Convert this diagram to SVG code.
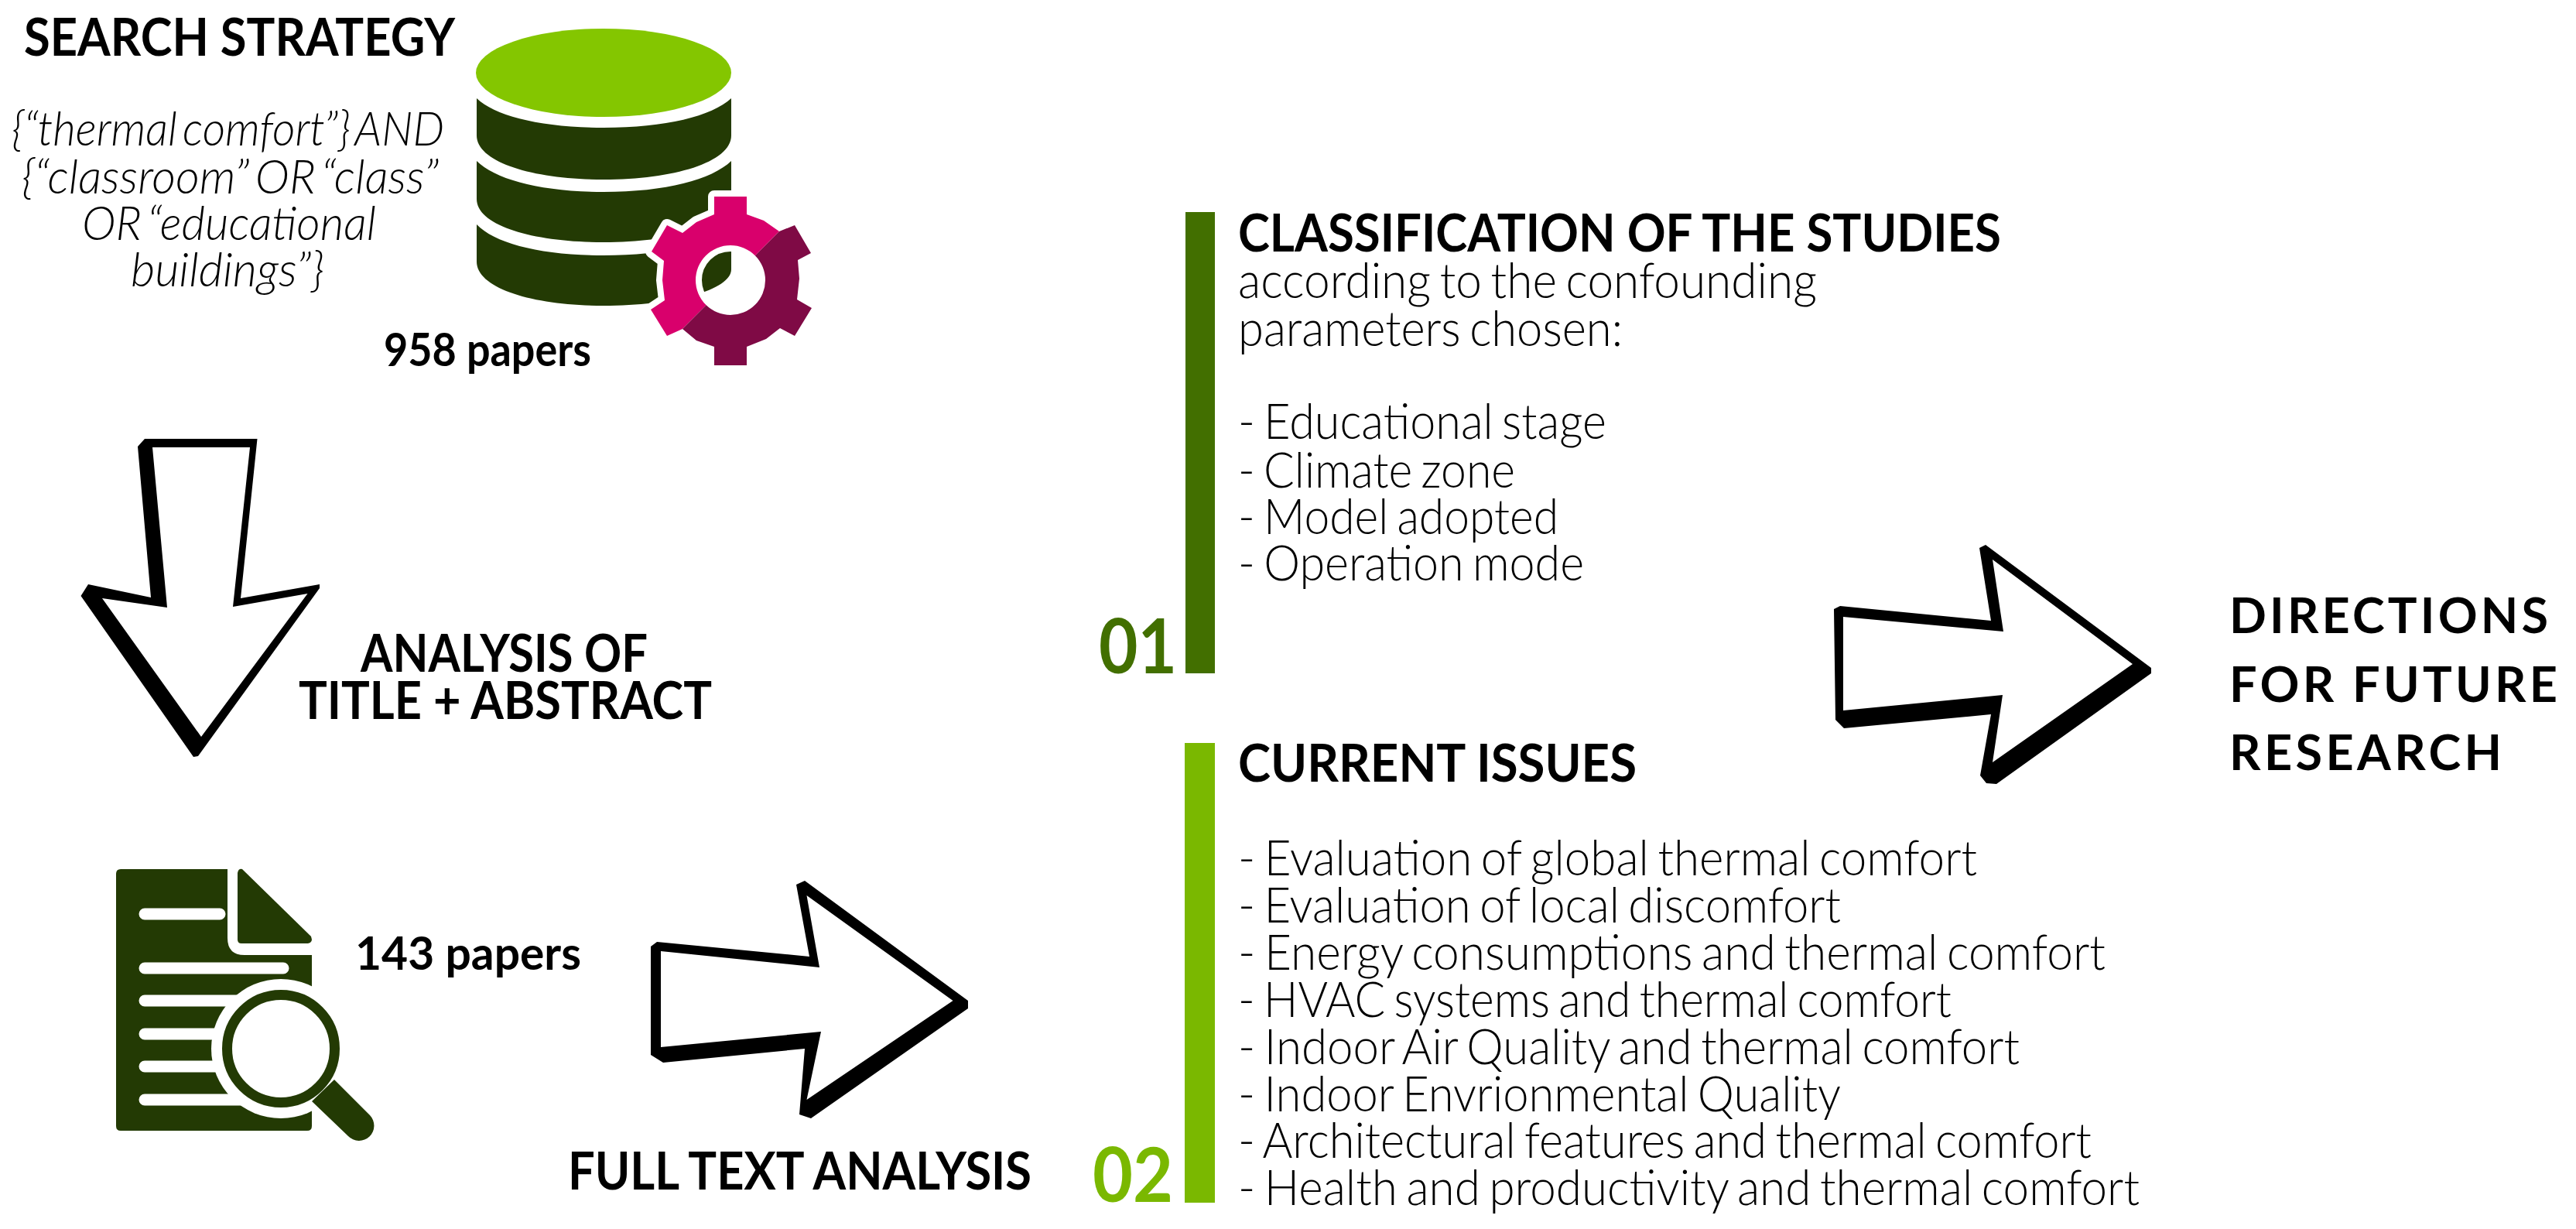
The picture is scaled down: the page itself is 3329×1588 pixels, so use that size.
<svg xmlns="http://www.w3.org/2000/svg" width="3329" height="1588" viewBox="0 0 3329 1588">
<style>
text{font-family:"Lato","Noto Sans","Liberation Sans",sans-serif;fill:#000}
.h{font-size:66px;font-weight:700}
.m{font-size:60px;font-weight:700}
.l{font-size:63px;font-weight:300;word-spacing:-5px}
.i{font-size:62px;font-weight:300;font-style:italic;word-spacing:-8px}
.d{font-size:63px;font-weight:700}
.n{font-size:98px;font-weight:700}
.dark{fill:#233a04}
.arrow{fill:#000;fill-rule:evenodd}
.ln{stroke:#fff;stroke-width:15;stroke-linecap:round;fill:none}
</style>
<defs>
<path id="gearShape" fill-rule="evenodd" d="M923 254H965V277L987 285 1007 299 1027 291 1048 327 1031 336 1033 360 1030 387 1049 398 1027 434 1008 424 990 438 965 448V472H923V448L900 440 882 425 862 434 841 400 859 388 856 362 858 337 842 325 862 291 882 301 900 287 923 277ZM944 317A45 45 0 1 0 944 407A45 45 0 1 0 944 317Z"/>
<clipPath id="pinkSide"><path d="M1007 299L882 425 860 450H820V240H1025Z"/></clipPath>
<clipPath id="maroonSide"><path d="M1007 299L882 425 860 445 860 490H1070V240H1025Z"/></clipPath>
</defs>
<rect width="3329" height="1588" fill="#fff"/>

<g id="search-strategy">
<text class="h" x="31" y="72" textLength="557" lengthAdjust="spacingAndGlyphs">SEARCH STRATEGY</text>
<text class="i" x="15" y="188" textLength="559" lengthAdjust="spacingAndGlyphs">{“thermal comfort”} AND</text>
<text class="i" x="28" y="250" textLength="539" lengthAdjust="spacingAndGlyphs">{“classroom” OR “class”</text>
<text class="i" x="106" y="310" textLength="380" lengthAdjust="spacingAndGlyphs">OR “educational</text>
<text class="i" x="169" y="370" textLength="250" lengthAdjust="spacingAndGlyphs">buildings”}</text>
</g>

<g id="database">
<ellipse cx="780" cy="94" rx="165" ry="57" fill="#84c600"/>
<path class="dark" d="M616 127C640 150 700 165 780 165S920 150 945 127V175C945 210 870 232 780 232S616 210 616 175Z"/>
<path class="dark" d="M616 208C640 232 700 248 780 248S920 232 945 208V257C945 292 870 313 780 313S616 292 616 257Z"/>
<path class="dark" d="M616 290C640 315 700 330 780 330S920 315 945 290V348C945 375 870 395 780 395S616 373 616 338Z"/>
<use href="#gearShape" fill="none" stroke="#fff" stroke-width="16" stroke-linejoin="round"/>
<use href="#gearShape" fill="#d9006c" clip-path="url(#pinkSide)"/>
<use href="#gearShape" fill="#7f0a45" clip-path="url(#maroonSide)"/>
</g>
<g id="count-958"><text class="m" x="496" y="473" textLength="268" lengthAdjust="spacingAndGlyphs">958 papers</text></g>

<g id="analysis-label">
<text class="h" x="466" y="868" textLength="371" lengthAdjust="spacingAndGlyphs">ANALYSIS OF</text>
<text class="h" x="386" y="929" textLength="534" lengthAdjust="spacingAndGlyphs">TITLE + ABSTRACT</text>
</g>

<g id="document">
<path class="dark" d="M156 1123H294V1212Q294 1234 316 1234H403V1455Q403 1461 397 1461H156Q150 1461 150 1455V1129Q150 1123 156 1123Z"/>
<path class="dark" d="M313 1123Q308 1122 307 1128V1214Q307 1219 312 1219H398Q405 1218 402 1210Z"/>
<path class="ln" d="M187 1181H284M187 1251H366M187 1293H320M187 1336H300M187 1378H300M187 1421H320"/>
<circle cx="363" cy="1355" r="90" fill="#fff"/>
<circle cx="363" cy="1355" r="69.500" fill="#fff" stroke="#233a04" stroke-width="13"/>
<path class="dark" d="M403 1423L432 1395 478 1441A18 18 0 0 1 450 1468Z"/>
</g>
<g id="count-143"><text class="m" x="459" y="1253" textLength="292" lengthAdjust="spacingAndGlyphs">143 papers</text></g>
<g id="fulltext-label"><text class="h" x="734" y="1537" textLength="599" lengthAdjust="spacingAndGlyphs">FULL TEXT ANALYSIS</text></g>

<g id="classification">
<rect x="1532" y="274" width="38" height="596" fill="#426f00"/>
<text class="n" x="1420" y="870" style="fill:#426f00" textLength="101" lengthAdjust="spacingAndGlyphs">01</text>
<text class="h" x="1600" y="325" textLength="986" lengthAdjust="spacingAndGlyphs">CLASSIFICATION OF THE STUDIES</text>
<text class="l" x="1600" y="385" textLength="748" lengthAdjust="spacingAndGlyphs">according to the confounding</text>
<text class="l" x="1600" y="447" textLength="497" lengthAdjust="spacingAndGlyphs">parameters chosen:</text>
<text class="l" x="1600" y="567" textLength="476" lengthAdjust="spacingAndGlyphs">- Educational stage</text>
<text class="l" x="1600" y="630" textLength="358" lengthAdjust="spacingAndGlyphs">- Climate zone</text>
<text class="l" x="1600" y="690" textLength="414" lengthAdjust="spacingAndGlyphs">- Model adopted</text>
<text class="l" x="1600" y="750" textLength="447" lengthAdjust="spacingAndGlyphs">- Operation mode</text>
</g>

<g id="issues">
<rect x="1531" y="960" width="39" height="594" fill="#7ab800"/>
<text class="n" x="1412" y="1553" style="fill:#7ab800" textLength="104" lengthAdjust="spacingAndGlyphs">02</text>
<text class="h" x="1600" y="1010" textLength="515" lengthAdjust="spacingAndGlyphs">CURRENT ISSUES</text>
<text class="l" x="1600" y="1131" textLength="955" lengthAdjust="spacingAndGlyphs">- Evaluation of global thermal comfort</text>
<text class="l" x="1600" y="1192" textLength="779" lengthAdjust="spacingAndGlyphs">- Evaluation of local discomfort</text>
<text class="l" x="1600" y="1253" textLength="1121" lengthAdjust="spacingAndGlyphs">- Energy consumptions and thermal comfort</text>
<text class="l" x="1600" y="1314" textLength="922" lengthAdjust="spacingAndGlyphs">- HVAC systems and thermal comfort</text>
<text class="l" x="1600" y="1375" textLength="1010" lengthAdjust="spacingAndGlyphs">- Indoor Air Quality and thermal comfort</text>
<text class="l" x="1600" y="1436" textLength="779" lengthAdjust="spacingAndGlyphs">- Indoor Envrionmental Quality</text>
<text class="l" x="1600" y="1496" textLength="1103" lengthAdjust="spacingAndGlyphs">- Architectural features and thermal comfort</text>
<text class="l" x="1600" y="1557" textLength="1165" lengthAdjust="spacingAndGlyphs">- Health and productivity and thermal comfort</text>
</g>

<g id="directions">
<text class="d" x="2881" y="818" textLength="412" lengthAdjust="spacing">DIRECTIONS</text>
<text class="d" x="2881" y="907" textLength="424" lengthAdjust="spacing">FOR FUTURE</text>
<text class="d" x="2881" y="995" textLength="352" lengthAdjust="spacing">RESEARCH</text>
</g>

<g id="connectors">
<path class="arrow" d="M178 577L187 567H332.500L311 773 413 755V760L256 977 250 978 104.500 770 114 755 195 772ZM197 578L216 785 132 773 260 952 397.500 767 301 784 323 578Z"/>
<path class="arrow" d="M841 1223L849 1217 1046 1236 1029 1143 1040 1138 1251 1293V1303L1048 1445 1033 1440 1040 1355 857 1373 841 1363ZM854 1229V1353L1061 1333 1042.500 1421 1231.500 1293 1042.500 1157 1059 1250Z"/>
<path class="arrow" d="M2370 787L2378 783 2573 802 2558 708 2566 704 2780 863V870L2580 1013 2567 1012 2559 1002 2573 923 2383 941 2372 930ZM2382 797V918L2588 898 2575 985 2756 858 2575 723 2589 816Z"/>
</g>
</svg>
